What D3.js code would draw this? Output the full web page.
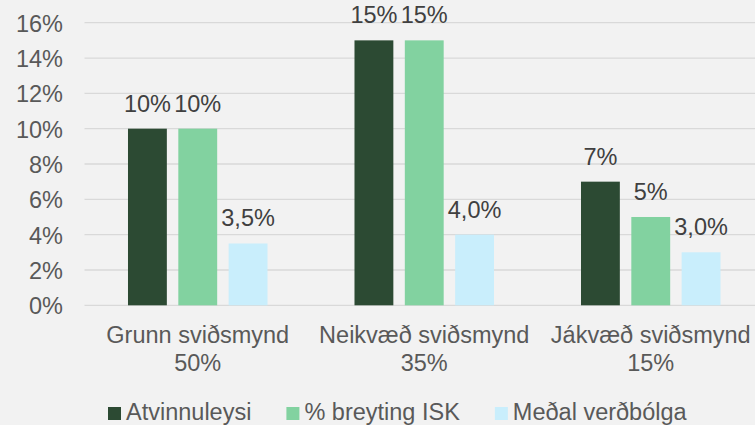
<!DOCTYPE html>
<html>
<head>
<meta charset="utf-8">
<script src="https://cdn.jsdelivr.net/npm/d3@7"></script>
<style>
  html, body { margin: 0; padding: 0; background: #f2f2f2; }
  svg { display: block; font-family: "Liberation Sans", Arial, sans-serif; }
</style>
</head>
<body>
<svg id="chart" width="755" height="425"></svg>
<script>
// scenario names and their weights (second line of the label)
var categories = ['Grunn sviðsmynd', 'Neikvæð sviðsmynd', 'Jákvæð sviðsmynd'];
var weights = ['50%', '35%', '15%'];

var series = ['Atvinnuleysi', '% breyting ISK', 'Meðal verðbólga'];
var colors = ['#2c4a33', '#82d2a0', '#c9eefc'];

var atvinnuleysi = [0.10, 0.15, 0.07];
var breytingIsk = [0.10, 0.15, 0.05];
var verdbolga = [0.035, 0.040, 0.030];

var yTicks = [0, 0.02, 0.04, 0.06, 0.08, 0.10, 0.12, 0.14, 0.16];

var values = [atvinnuleysi, breytingIsk, verdbolga];
var isl = d3.formatLocale({ decimal: ',', thousands: '.', grouping: [3], currency: ['', ' kr.'] });
var labelFormats = [isl.format('.0%'), isl.format('.0%'), isl.format('.1%')];

var svg = d3.select('#chart');
var fontSize = 23.5;

var y = d3.scaleLinear().domain([0, 0.16]).range([305.3, 22.7]);
var x0 = d3.scaleBand().domain(categories).range([84.5, 764]);
var bw = x0.bandwidth();
var x1 = d3.scaleBand().domain(series)
        .range([bw * 0.192, bw * 0.808])
        .paddingInner(0.228);

// gridlines
svg.append('g').selectAll('line')
    .data(yTicks)
    .enter().append('line')
    .attr('x1', 84.5)
    .attr('x2', 755)
    .attr('y1', function(d) { return y(d); })
    .attr('y2', function(d) { return y(d); })
    .style('stroke', '#d9d9d9')
    .style('stroke-width', 1.3);

// y axis labels
var yAxis = d3.axisLeft(y).tickValues(yTicks).tickFormat(d3.format('.0%')).tickSize(0).tickPadding(0);
var gy = svg.append('g').attr('transform', 'translate(63,0)').call(yAxis);
gy.select('.domain').remove();
gy.selectAll('text')
    .style('font-size', fontSize + 'px')
    .style('font-family', '"Liberation Sans", Arial, sans-serif')
    .style('fill', '#595959')
    .attr('dy', '0.36em');

// bars
var groups = svg.append('g').selectAll('g')
    .data(categories)
    .enter().append('g')
    .attr('transform', function(d) { return 'translate(' + x0(d) + ',0)'; });

groups.selectAll('rect')
    .data(function(d, i) {
        return series.map(function(s, j) { return { s: s, j: j, v: values[j][i] }; });
    })
    .enter().append('rect')
    .attr('x', function(d) { return x1(d.s); })
    .attr('width', x1.bandwidth())
    .attr('y', function(d) { return y(d.v); })
    .attr('height', function(d) { return y(0) - y(d.v); })
    .style('fill', function(d) { return colors[d.j]; });

groups.selectAll('text.lbl')
    .data(function(d, i) {
        return series.map(function(s, j) { return { s: s, j: j, v: values[j][i] }; });
    })
    .enter().append('text')
    .attr('class', 'lbl')
    .attr('x', function(d) { return x1(d.s) + x1.bandwidth() / 2; })
    .attr('y', function(d) { return y(d.v) - 17; })
    .attr('text-anchor', 'middle')
    .style('font-size', fontSize + 'px')
    .style('fill', '#404040')
    .text(function(d) { return labelFormats[d.j](d.v); });

// category labels
var cat = svg.append('g').selectAll('text')
    .data(categories)
    .enter().append('text')
    .attr('text-anchor', 'middle')
    .style('font-size', fontSize + 'px')
    .style('fill', '#595959');
cat.append('tspan')
    .attr('x', function(d) { return x0(d) + bw / 2; })
    .attr('y', 343)
    .text(function(d) { return d; });
cat.append('tspan')
    .attr('x', function(d) { return x0(d) + bw / 2; })
    .attr('y', 371)
    .text(function(d, i) { return weights[i]; });

// legend
var legend = svg.append('g');
var lx = 108;
series.forEach(function(s, j) {
    legend.append('rect')
        .attr('x', lx).attr('y', 407)
        .attr('width', 13).attr('height', 13)
        .style('fill', colors[j]);
    var t = legend.append('text')
        .attr('x', lx + 18).attr('y', 420)
        .style('font-size', fontSize + 'px')
        .style('fill', '#595959')
        .text(s);
    lx = lx + 18 + t.node().getComputedTextLength() + 35;
});
</script>
</body>
</html>
